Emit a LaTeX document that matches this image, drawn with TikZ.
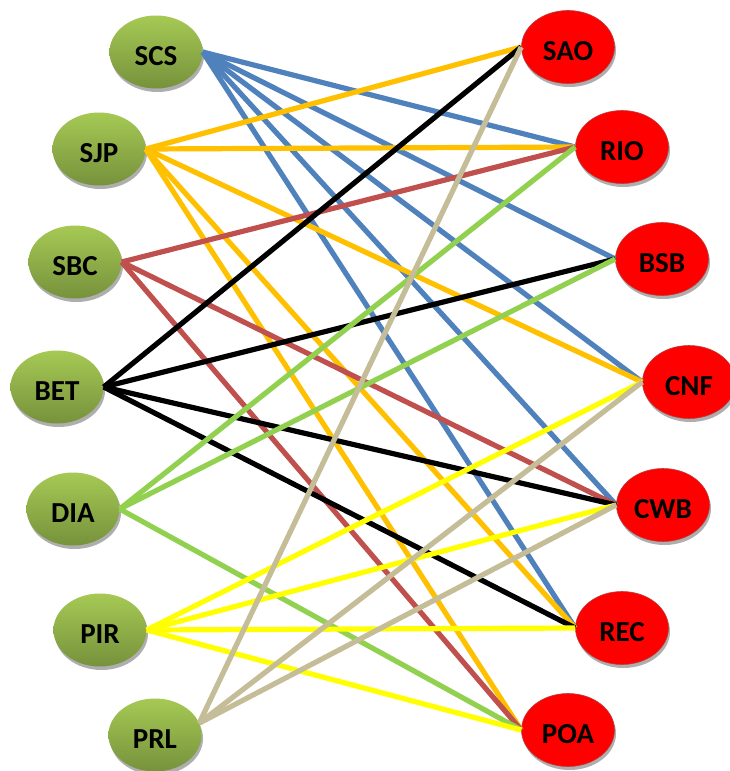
\documentclass[tikz,border=0pt]{standalone}
\usepackage{fontspec}
\setmainfont{Carlito}
\usetikzlibrary{shapes.geometric,shadows}
\definecolor{cblue}{HTML}{4F81BD}
\definecolor{corange}{HTML}{FFC000}
\definecolor{cred}{HTML}{C0504D}
\definecolor{cgreen}{HTML}{92D050}
\definecolor{cyellow}{HTML}{FFFF00}
\definecolor{ctan}{HTML}{C4BD97}
\definecolor{gtop}{RGB}{166,201,84}
\definecolor{gbot}{RGB}{118,146,60}
\definecolor{rborder}{RGB}{190,60,60}
\newcommand\nlbl[1]{\raisebox{-4pt}[\height][\depth]{#1}}
\begin{document}
\begin{tikzpicture}[x=1pt,y=-1pt,
  base/.style={ellipse, minimum width=93pt, minimum height=73pt, inner sep=0pt,
    font=\bfseries\fontsize{29}{29}\selectfont,
    drop shadow={shadow xshift=1.5pt, shadow yshift=-3.5pt, fill=black!45, opacity=0.7}},
  gnode/.style={base, top color=gtop, bottom color=gbot, draw=none},
  rnode/.style={base, fill=red, draw=rborder, line width=0.6pt},
  edge/.style={line width=5.2pt},
  eblue/.style={edge, cblue},
  eorange/.style={edge, corange},
  ered/.style={edge, cred},
  eblack/.style={edge, black},
  egreen/.style={edge, cgreen},
  eyellow/.style={edge, cyellow},
  etan/.style={edge, ctan}]
\useasboundingbox (0,0) rectangle (730,771);
\fill[white] (0,0) rectangle (730,771);
% left nodes
\node[gnode] (SCS) at (156,52) {\nlbl{SCS}};
\node[gnode] (SJP) at (99,149) {\nlbl{SJP}};
\node[gnode] (SBC) at (75,262) {\nlbl{SBC}};
\node[gnode] (BET) at (57,387) {\nlbl{BET}};
\node[gnode] (DIA) at (73,509) {\nlbl{DIA}};
\node[gnode] (PIR) at (100,630) {\nlbl{PIR}};
\node[gnode] (PRL) at (155,735) {\nlbl{PRL}};
% right nodes
\node[rnode] (SAO) at (568,47) {\nlbl{SAO}};
\node[rnode] (RIO) at (622,147) {\nlbl{RIO}};
\node[rnode] (BSB) at (662,259) {\nlbl{BSB}};
\node[rnode] (CNF) at (689,382) {\nlbl{CNF}};
\node[rnode] (CWB) at (663,505) {\nlbl{CWB}};
\node[rnode] (REC) at (622,628) {\nlbl{REC}};
\node[rnode] (POA) at (568,730) {\nlbl{POA}};
% SCS blue
\foreach \t in {RIO,BSB,CNF,CWB,REC} \draw[eblue] (SCS.east) -- (\t.west);
% SJP orange
\foreach \t in {SAO,RIO,CNF,REC,POA} \draw[eorange] (SJP.east) -- (\t.west);
% SBC red
\foreach \t in {RIO,CWB,POA} \draw[ered] (SBC.east) -- (\t.west);
% BET black
\foreach \t in {SAO,BSB,CWB,REC} \draw[eblack] (BET.east) -- (\t.west);
% DIA green
\foreach \t in {RIO,BSB,POA} \draw[egreen] (DIA.east) -- (\t.west);
% PIR yellow
\foreach \t in {CNF,CWB,REC,POA} \draw[eyellow] (PIR.east) -- (\t.west);
% PRL tan
\foreach \t in {SAO,CNF,CWB} \draw[etan] (PRL.15) -- (\t.west);
\end{tikzpicture}
\end{document}
